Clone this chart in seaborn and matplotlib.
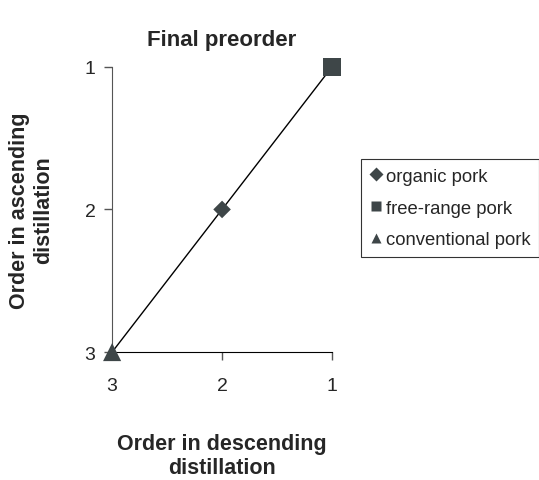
import matplotlib
matplotlib.use("Agg")
import matplotlib.pyplot as plt
import seaborn as sns
import pandas as pd

products = ["organic pork", "free-range pork", "conventional pork"]
descending_order = [2, 1, 3]
ascending_order = [2, 1, 3]
tick_values = [1, 2, 3]
tick_labels = ["1", "2", "3"]

df = pd.DataFrame({"product": products, "desc": descending_order, "asc": ascending_order})

sns.set_style("white")
plt.rcParams["font.family"] = ["Liberation Sans", "DejaVu Sans"]

fig = plt.figure(figsize=(5.39, 4.81), dpi=100)
ax = fig.add_axes([0.208, 0.266, 0.408, 0.593])

line_df = df.sort_values("desc")
sns.lineplot(data=line_df, x="desc", y="asc", color="black", linewidth=1.0,
             sort=False, ax=ax, legend=False)
sns.scatterplot(data=df, x="desc", y="asc", style="product", hue="product", size="product",
                markers={"organic pork": "D", "free-range pork": "s", "conventional pork": "^"},
                sizes={"organic pork": 80, "free-range pork": 160, "conventional pork": 170},
                palette={p: "#3e4648" for p in products},
                edgecolor="none", ax=ax, zorder=5)
for c in ax.collections:
    c.set_clip_on(False)

ax.set_xlim(3, 1)
ax.set_ylim(3, 1)
ax.set_xticks(tick_values)
ax.set_xticklabels(tick_labels)
ax.set_yticks(tick_values)
ax.set_yticklabels(tick_labels)

for s in ["top", "right"]:
    ax.spines[s].set_visible(False)
ax.spines["left"].set_color("#555555")
ax.spines["bottom"].set_color("black")
ax.tick_params(axis="x", direction="out", length=6, width=1, color="#555555",
               labelsize=14, pad=12, bottom=True)
ax.tick_params(axis="y", direction="out", length=6, width=1, color="#555555",
               labelsize=14, pad=6, left=True)

ax.set_title("Final preorder", fontsize=16, fontweight="bold", pad=16)
ax.set_xlabel("Order in descending\ndistillation", fontsize=15.5, fontweight="bold", labelpad=28)
ax.set_ylabel("Order in ascending\ndistillation", fontsize=15.5, fontweight="bold", labelpad=22)

handles, labels = ax.get_legend_handles_labels()
handles, labels = handles[-3:], labels[-3:]
for h in handles:
    h.set_markersize(7)
leg = ax.legend(handles, labels, loc="center left", bbox_to_anchor=(1.13, 0.505),
                frameon=True, fancybox=False, edgecolor="black", fontsize=13.3,
                handletextpad=0.15, handlelength=0.8, labelspacing=0.8, borderpad=0.45,
                borderaxespad=0)
leg.get_frame().set_linewidth(0.8)

fig.savefig("out.png", dpi=100)
